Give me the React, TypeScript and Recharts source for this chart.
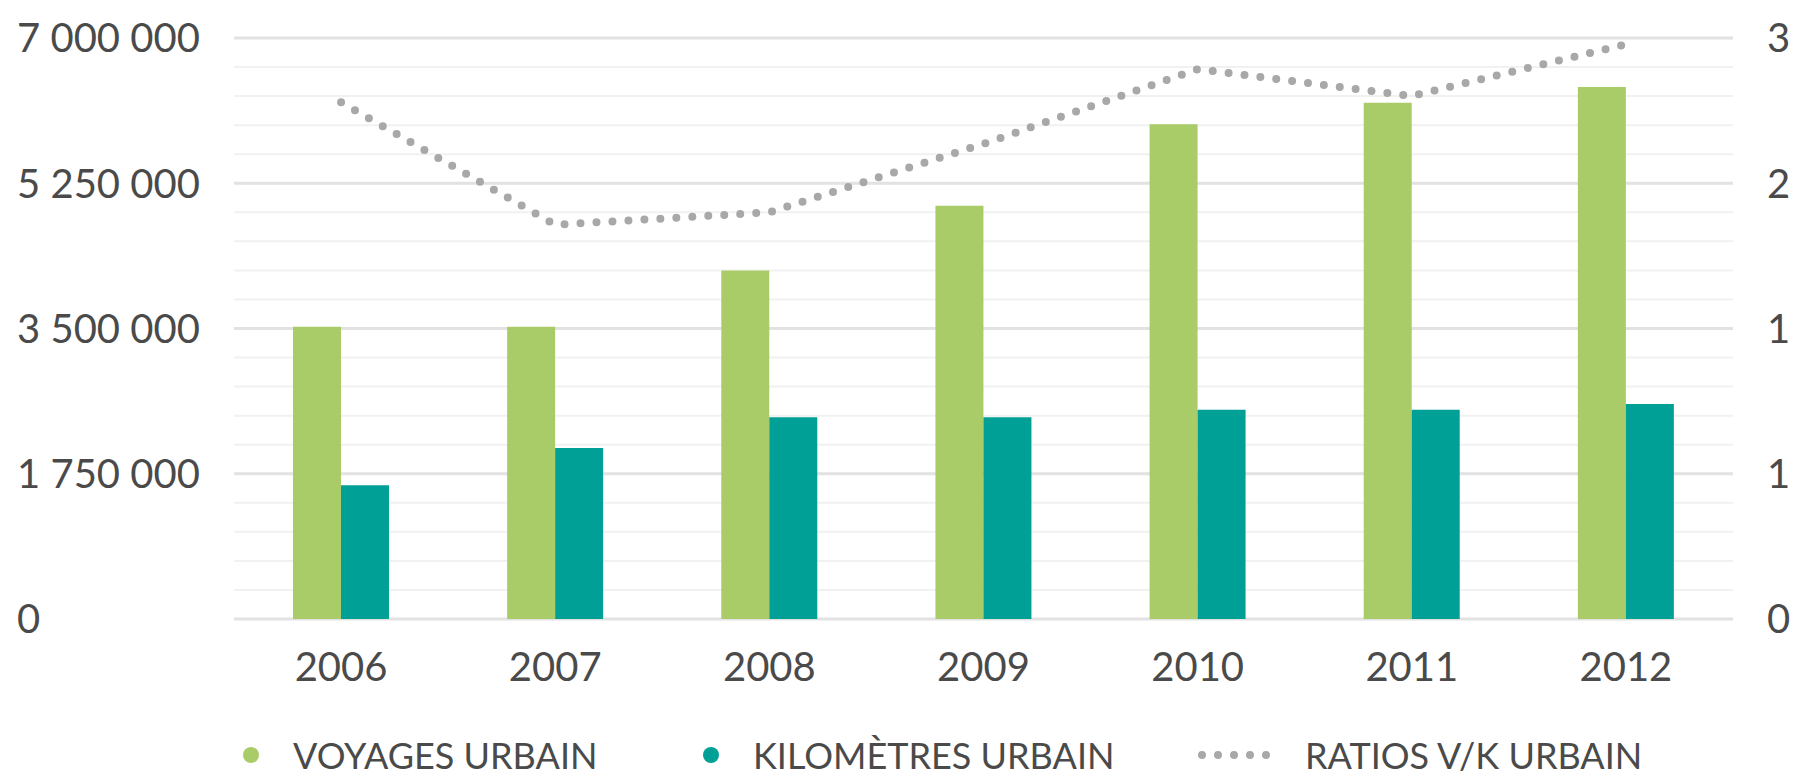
import {
  Bar,
  CartesianGrid,
  ComposedChart,
  Legend,
  Line,
  XAxis,
  YAxis,
} from "recharts";

const years = ["2006", "2007", "2008", "2009", "2010", "2011", "2012"];
const voyages = [3520000, 3520000, 4200000, 4980000, 5960000, 6220000, 6410000];
const kilometres = [1610000, 2060000, 2430000, 2430000, 2520000, 2520000, 2590000];
const ratios = [2.49, 1.9, 1.96, 2.29, 2.65, 2.52, 2.77];

const leftTicks = [0, 1750000, 3500000, 5250000, 7000000];
const minorTicks = Array.from({ length: 21 }, (_, i) => i * 350000);
const rightTicks = [0, 0.7, 1.4, 2.1, 2.8];

const data = years.map((year, i) => ({
  year,
  voyages: voyages[i],
  kilometres: kilometres[i],
  ratio: ratios[i],
}));

const GREEN = "#a9cc69";
const TEAL = "#00a096";
const DOTS = "#a8a8a8";
const TEXT = "#4a4a4a";
const FONT = "Lato, 'Open Sans', sans-serif";

const fmt = (v: number) => String(v).replace(/\B(?=(\d{3})+(?!\d))/g, " ");

function LeftTick(props: any) {
  const { y, payload } = props;
  return (
    <text x={17} y={y} dy="0.36em" textAnchor="start" fill={TEXT} fontSize={40} fontFamily={FONT}>
      {fmt(payload.value)}
    </text>
  );
}

function RightTick(props: any) {
  const { y, payload } = props;
  return (
    <text x={1767} y={y} dy="0.36em" textAnchor="start" fill={TEXT} fontSize={40} fontFamily={FONT}>
      {Math.round(payload.value)}
    </text>
  );
}

function LegendContent() {
  const label = { position: "absolute" as const, top: 17, fontSize: 36, color: TEXT, fontFamily: FONT, lineHeight: "44px", whiteSpace: "nowrap" as const };
  const dot = (c: string) => ({ position: "absolute" as const, top: 31, width: 16, height: 16, borderRadius: 8, background: c });
  return (
    <div style={{ position: "relative", width: 1803, height: 60 }}>
      <span style={{ ...dot(GREEN), left: 243 }} />
      <span style={{ ...label, left: 293 }}>VOYAGES URBAIN</span>
      <span style={{ ...dot(TEAL), left: 703 }} />
      <span style={{ ...label, left: 753 }}>KILOMÈTRES URBAIN</span>
      <svg style={{ position: "absolute", left: 1196, top: 29 }} width={90} height={20}>
        <line x1={6} y1={10} x2={80} y2={10} stroke={DOTS} strokeWidth={8} strokeLinecap="round" strokeDasharray="0 16" />
      </svg>
      <span style={{ ...label, left: 1305 }}>RATIOS V/K URBAIN</span>
    </div>
  );
}

export default function App() {
  return (
    <div style={{ position: "absolute", left: 0, top: 0, background: "#fff" }}>
      <ComposedChart
        width={1803}
        height={776}
        data={data}
        margin={{ top: 38, right: 0, left: 0, bottom: 0 }}
        barGap={0}
      >
        <CartesianGrid yAxisId="left" vertical={false} horizontalValues={minorTicks} stroke="#f1f1f1" strokeWidth={2} />
        <CartesianGrid yAxisId="left" vertical={false} horizontalValues={leftTicks} stroke="#e2e2e2" strokeWidth={3} />
        <XAxis
          dataKey="year"
          height={97}
          axisLine={false}
          tickLine={false}
          tickMargin={28}
          tick={{ fill: TEXT, fontSize: 40, fontFamily: FONT }}
        />
        <YAxis
          yAxisId="left"
          width={234}
          domain={[0, 7000000]}
          ticks={leftTicks}
          axisLine={false}
          tickLine={false}
          tick={<LeftTick />}
        />
        <YAxis
          yAxisId="right"
          orientation="right"
          width={70}
          domain={[0, 2.8]}
          ticks={rightTicks}
          axisLine={false}
          tickLine={false}
          tick={<RightTick />}
        />
        <Legend verticalAlign="bottom" height={60} content={<LegendContent />} />
        <Bar yAxisId="left" dataKey="voyages" name="VOYAGES URBAIN" fill={GREEN} barSize={48} isAnimationActive={false} />
        <Bar yAxisId="left" dataKey="kilometres" name="KILOMÈTRES URBAIN" fill={TEAL} barSize={48} isAnimationActive={false} />
        <Line
          yAxisId="right"
          dataKey="ratio"
          name="RATIOS V/K URBAIN"
          type="linear"
          stroke={DOTS}
          strokeWidth={8}
          strokeLinecap="round"
          strokeDasharray="0 16"
          dot={false}
          activeDot={false}
          isAnimationActive={false}
        />
      </ComposedChart>
    </div>
  );
}
